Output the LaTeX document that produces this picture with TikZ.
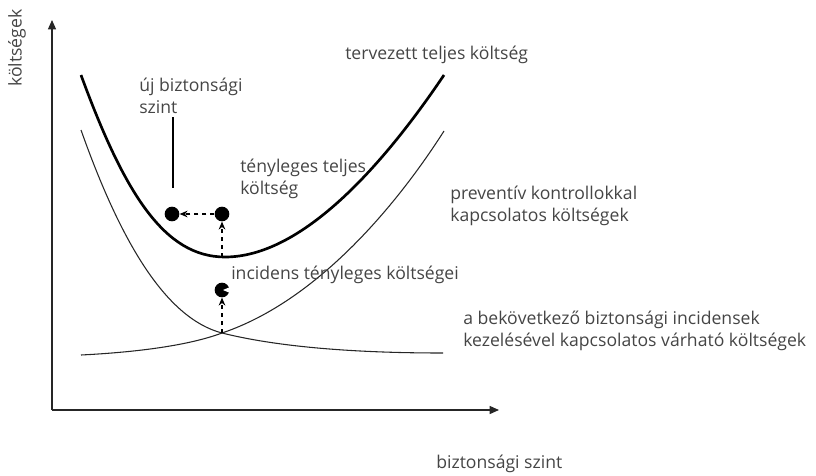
\documentclass[tikz,border=0pt]{standalone}
\usepackage{fontspec}
\setmainfont{Open Sans}
\usetikzlibrary{arrows.meta}
\definecolor{txt}{HTML}{454545}
\begin{document}
\begin{tikzpicture}[x=0.75pt,y=-0.75pt,
  lbl/.style={text=txt,font=\fontsize{13.2}{16.5}\selectfont,inner sep=0pt,anchor=west,align=left},
  axis/.style={line width=1pt,draw=black!85,-{Triangle[length=7pt,width=6pt]}},
  thick curve/.style={line width=2pt},
  thin curve/.style={line width=0.8pt,draw=black!85},
  dotnode/.style={circle,fill=black,minimum size=11pt,inner sep=0pt},
  darrow/.style={dashed,line width=0.8pt,-{Stealth[length=6pt,width=5pt]}}]
\useasboundingbox (0,0) rectangle (816,475);
% axes
\coordinate (O) at (52,410);
\coordinate (Ytop) at (52,20);
\coordinate (Xend) at (499,410);
\draw[axis] (O) -- (Ytop);
\draw[axis] (O) -- (Xend);
% curves
\draw[thick curve] (81,75) .. controls (125,195) and (165,257) .. (225,257)
   .. controls (300,257) and (380,170) .. (444,75);
\draw[thin curve] (81,130) .. controls (120,240) and (165,318) .. (222,333)
   .. controls (290,350) and (380,353) .. (443,353);
\draw[thin curve] (81,355) .. controls (140,352) and (190,345) .. (222,333)
   .. controls (320,300) and (400,200) .. (444,131);
% points
\node[dotnode] (nl) at (172,214) {};
\node[dotnode] (at) at (222,214) {};
\node[dotnode] (ic) at (222,290) {};
\fill[white] (ic.center) ++(1,0) -- ++(7,-3) -- ++(0,6) -- cycle;
\coordinate (mn) at (222,257);
\coordinate (cr) at (222,333);
\draw[darrow] (at) -- (nl);
\draw[darrow] (mn) -- (at);
\draw[darrow] (cr) -- (ic);
% label line
\coordinate (l1) at (173,117);
\coordinate (l2) at (173,188);
\draw[line width=0.8pt] (l1) -- (l2);
% labels
\node[lbl,rotate=90,anchor=center] (yl) at (17,48) {költségek};
\node[lbl] (t1) at (139,96) {új biztonsági\\szint};
\node[lbl] (t2) at (240,179) {tényleges teljes\\költség};
\node[lbl] (t3) at (345,55) {tervezett teljes költség};
\node[lbl] (t4) at (450,206) {preventív kontrollokkal\\kapcsolatos költségek};
\node[lbl] (t5) at (231,275) {incidens tényleges költségei};
\node[lbl] (t6) at (463,331) {a bekövetkező biztonsági incidensek\\kezelésével kapcsolatos várható költségek};
\node[lbl] (t7) at (436,464) {biztonsági szint};
\end{tikzpicture}
\end{document}
